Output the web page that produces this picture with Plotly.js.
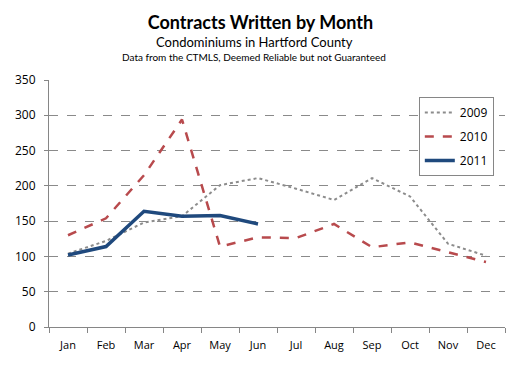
<!DOCTYPE html>
<html><head><meta charset="utf-8">
<script src="https://cdn.plot.ly/plotly-3.0.1.min.js"></script>
<style>html,body{margin:0;padding:0;background:#fff}#chart{width:521px;height:371px}</style>
</head><body><div id="chart"></div>
<script>
var months = ["Jan","Feb","Mar","Apr","May","Jun","Jul","Aug","Sep","Oct","Nov","Dec"];
var y2009 = [104,122,148,157,201,211,196,180,211,185,118,101];
var y2010 = [130,154,215,294,114,127,126,146,113,120,106,92];
var y2011 = [102,114,164,157,158,146];
var yTicks = [0,50,100,150,200,250,300,350];

var fontTick = "'Open Sans', 'DejaVu Sans', sans-serif";
var traces = [
  {x: months, y: y2009, name: "2009", mode: "lines", legendgroup: "a",
   line: {color: "#8c8c8c", width: 2, dash: "dot"}},
  {x: months, y: y2010, name: "2010", mode: "lines", legendgroup: "b",
   line: {color: "#b84a4d", width: 2.5, dash: "dash"}},
  {x: months.slice(0, y2011.length), y: y2011, name: "2011", mode: "lines", legendgroup: "c",
   line: {color: "#1f497d", width: 3.5}}
];
var layout = {
  width: 521, height: 371,
  margin: {l: 49, r: 16, t: 80, b: 44},
  paper_bgcolor: "#fff", plot_bgcolor: "#fff",
  showlegend: true,
  title: {text: "<b>Contracts Written by Month</b>", x: 0.5, xanchor: "center", y: 0.94, yanchor: "middle",
          font: {family: "Lato, 'Open Sans', sans-serif", size: 18, color: "#000"}},
  annotations: [
    {text: "Condominiums in Hartford County", xref: "paper", yref: "paper", x: 0.45, y: 1.155,
     xanchor: "center", yanchor: "middle", showarrow: false,
     font: {family: "Lato, sans-serif", size: 13, color: "#000"}},
    {text: "Data from the CTMLS, Deemed Reliable but not Guaranteed", xref: "paper", yref: "paper", x: 0.45, y: 1.095,
     xanchor: "center", yanchor: "middle", showarrow: false,
     font: {family: "Lato, sans-serif", size: 10, color: "#000"}}
  ],
  xaxis: {type: "category", categoryarray: months, range: [-0.5, 11.5],
          showline: true, linecolor: "#868686", linewidth: 1,
          ticks: "outside", tickson: "boundaries", ticklen: 5, tickcolor: "#868686",
          showgrid: false, zeroline: false, ticklabelstandoff: 8,
          tickfont: {family: fontTick, size: 11, color: "#000"}},
  yaxis: {range: [0, 350], tickvals: yTicks, ticktext: yTicks.map(String),
          showline: true, linecolor: "#868686", linewidth: 1,
          ticks: "outside", ticklen: 4, tickcolor: "#868686",
          showgrid: true, gridcolor: "#8a8a8a", griddash: "dash", gridwidth: 1,
          zeroline: false, ticklabelstandoff: 6,
          tickfont: {family: fontTick, size: 12, color: "#000"}},
  legend: {x: 0.811, y: 0.931, xanchor: "left", yanchor: "top",
           bordercolor: "#868686", borderwidth: 1, bgcolor: "#fff",
           traceorder: "grouped", tracegroupgap: 5,
           font: {family: fontTick, size: 12, color: "#000"}}
};
Plotly.newPlot("chart", traces, layout, {displayModeBar: false, staticPlot: true});
</script></body></html>
